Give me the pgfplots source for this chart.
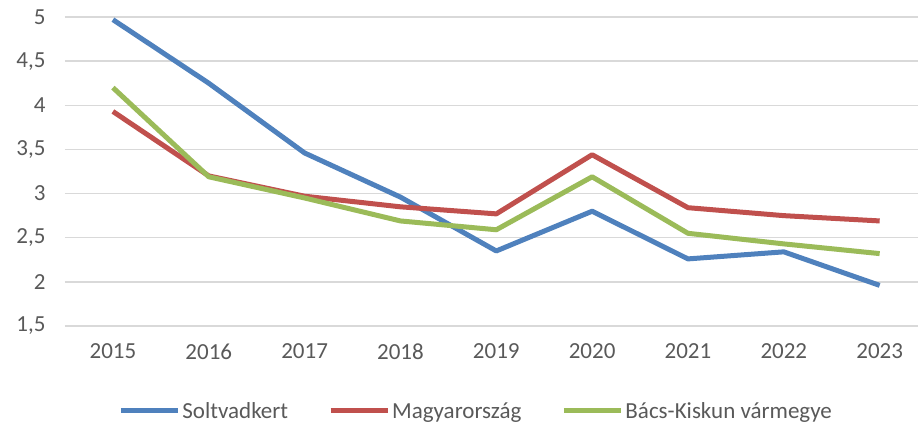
\documentclass[border=0pt]{standalone}
\usepackage{pgfplots}
\pgfplotsset{compat=1.18}
\usepackage{fontspec}
\setmainfont{Carlito}
\definecolor{txt}{HTML}{595959}
\definecolor{gridc}{HTML}{D9D9D9}
\definecolor{cblue}{HTML}{4F81BD}
\definecolor{cred}{HTML}{C0504D}
\definecolor{cgreen}{HTML}{9BBB59}
\begin{document}
\begin{tikzpicture}[x=1pt,y=1pt]
\useasboundingbox (-65,-99) rectangle (853,326);
\begin{axis}[
  at={(0,0)}, anchor=south west,
  scale only axis, width=853pt, height=309pt,
  xmin=-0.5, xmax=8.4, ymin=1.5, ymax=5,
  axis line style={draw=none},
  major tick length=0pt,
  xtick={0,1,2,3,4,5,6,7,8},
  xticklabels={2015,2016,2017,2018,2019,2020,2021,2022,2023},
  ytick={1.5,2,2.5,3,3.5,4,4.5,5},
  yticklabels={{1,5},2,{2,5},3,{3,5},4,{4,5},5},
  ymajorgrids, grid style={gridc, line width=1.5pt},
  tick label style={font=\fontsize{23}{27}\selectfont, text=txt},
  xticklabel style={anchor=north, yshift=-14pt},
  yticklabel style={anchor=east, xshift=-16pt},
  legend style={at={(0.482,-0.275)}, anchor=center, draw=none, fill=none,
    font=\fontsize{23}{27}\selectfont, text=txt, legend columns=3,
    /tikz/every even column/.append style={column sep=38pt},
    nodes={inner xsep=2pt}},
  legend image code/.code={\draw[#1, line width=5pt] (0pt,0pt) -- (57pt,0pt);},
  every axis plot/.append style={line width=5pt, line join=round, no markers},
]
\addplot[cblue] coordinates {(0,4.97) (1,4.25) (2,3.46) (3,2.96) (4,2.35) (5,2.80) (6,2.26) (7,2.34) (8,1.96)};
\addlegendentry{Soltvadkert}
\addplot[cred] coordinates {(0,3.93) (1,3.20) (2,2.97) (3,2.85) (4,2.77) (5,3.44) (6,2.84) (7,2.75) (8,2.69)};
\addlegendentry{Magyarország}
\addplot[cgreen] coordinates {(0,4.20) (1,3.19) (2,2.95) (3,2.69) (4,2.59) (5,3.19) (6,2.55) (7,2.43) (8,2.32)};
\addlegendentry{Bács-Kiskun vármegye}
\end{axis}
\end{tikzpicture}
\end{document}
